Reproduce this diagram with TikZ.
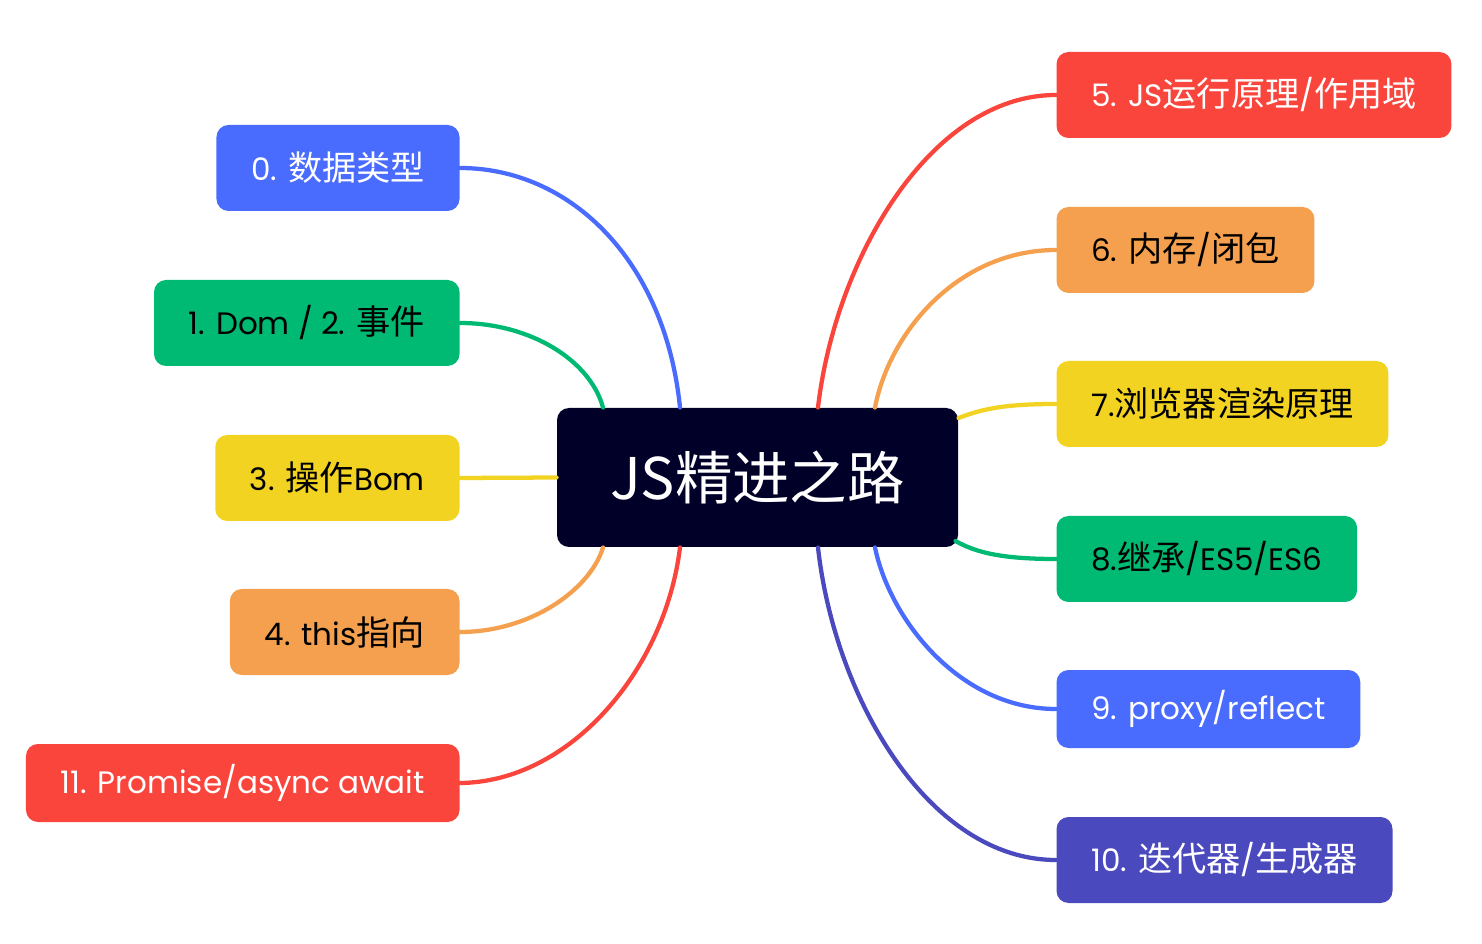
\documentclass[tikz,border=0pt]{standalone}
\usepackage{fontspec}
\setmainfont{Poppins}[Scale=0.93]
\newfontfamily\cjk{Noto Sans CJK SC}[Scale=1.025]
\usetikzlibrary{calc}

\tikzset{every picture/.style={line width=0.75pt}}

\definecolor{topicblue}{RGB}{73,107,254}
\definecolor{topicgreen}{RGB}{0,185,115}
\definecolor{topicyellow}{RGB}{242,211,34}
\definecolor{topicorange}{RGB}{245,160,78}
\definecolor{topicred}{RGB}{249,69,60}
\definecolor{topicindigo}{RGB}{75,73,190}
\definecolor{rootnavy}{RGB}{0,0,40}

\begin{document}
\begin{tikzpicture}[x=0.75pt,y=0.75pt,yscale=-1,xscale=1,
  topic/.style={rounded corners=9pt, minimum height=64.5pt, inner xsep=26pt, inner ysep=0pt, font=\fontsize{25}{30}\selectfont},
  lefttopic/.style={topic, anchor=east},
  righttopic/.style={topic, anchor=west},
  rootbox/.style={rounded corners=9pt, minimum width=300.75pt, minimum height=104.25pt, fill=rootnavy, text=white, font=\cjk\fontsize{42}{50}\selectfont},
  link/.style={line width=3.2pt, line cap=round}]
%uncomment if require: \path (0,944); %set diagram left start at 0, and has height of 944
\useasboundingbox (0,0) rectangle (1482,944);

%Shape: Rectangle [root]
\node (root) [rootbox] at (757.5,477.5) {JS精进之路};

%Shape: Rectangle [left topics]
\node (n0) [lefttopic, fill=topicblue, text=white] at (460,168) {0. {\cjk 数据类型}};
\node (n1) [lefttopic, fill=topicgreen] at (460,323) {1. Dom / 2. {\cjk 事件}};
\node (n3) [lefttopic, fill=topicyellow] at (460,478) {3. {\cjk 操作}Bom};
\node (n4) [lefttopic, fill=topicorange] at (460,632) {4. this{\cjk 指向}};
\node (n11) [lefttopic, fill=topicred, text=white, minimum height=58.5pt] at (460,783) {11. Promise/async await};

%Shape: Rectangle [right topics]
\node (n5) [righttopic, fill=topicred, text=white] at (1056,95) {5. JS{\cjk 运行原理}/{\cjk 作用域}};
\node (n6) [righttopic, fill=topicorange] at (1056,250) {6. {\cjk 内存}/{\cjk 闭包}};
\node (n7) [righttopic, fill=topicyellow] at (1056,404) {7.{\cjk 浏览器渲染原理}};
\node (n8) [righttopic, fill=topicgreen] at (1056,559) {8.{\cjk 继承}/ES5/ES6};
\node (n9) [righttopic, fill=topicblue, text=white, minimum height=58.5pt] at (1056,709) {9. proxy/reflect};
\node (n10) [righttopic, fill=topicindigo, text=white] at (1056,860) {10. {\cjk 迭代器}/{\cjk 生成器}};

%Curve Lines [left]
\draw [link, topicblue] (n0.east) .. controls (570,168) and (665,260) .. ($(root.north)+(-77.5,0)$);
\draw [link, topicgreen] (n1.east) .. controls (530,323) and (590,360) .. ($(root.north)+(-154.5,0)$);
\draw [link, topicyellow] (n3.east) -- (root.west);
\draw [link, topicorange] (n4.east) .. controls (530,632) and (590,590) .. ($(root.south)+(-154.5,0)$);
\draw [link, topicred] (n11.east) .. controls (570,782) and (665,670) .. ($(root.south)+(-77.5,0)$);

%Curve Lines [right]
\draw [link, topicred] (n5.west) .. controls (930,95) and (835,260) .. ($(root.north)+(60.5,0)$);
\draw [link, topicorange] (n6.west) .. controls (960,250) and (890,330) .. ($(root.north)+(117.5,0)$);
\draw [link, topicyellow] (n7.west) .. controls (1000,404) and (980,410) .. ($(root.east)+(0,-59.5)$);
\draw [link, topicgreen] (n8.west) .. controls (1000,559) and (975,552) .. ($(root.east)+(-3,63.5)$);
\draw [link, topicblue] (n9.west) .. controls (960,709) and (890,620) .. ($(root.south)+(117.5,0)$);
\draw [link, topicindigo] (n10.west) .. controls (930,860) and (835,700) .. ($(root.south)+(60.5,0)$);

\end{tikzpicture}
\end{document}
